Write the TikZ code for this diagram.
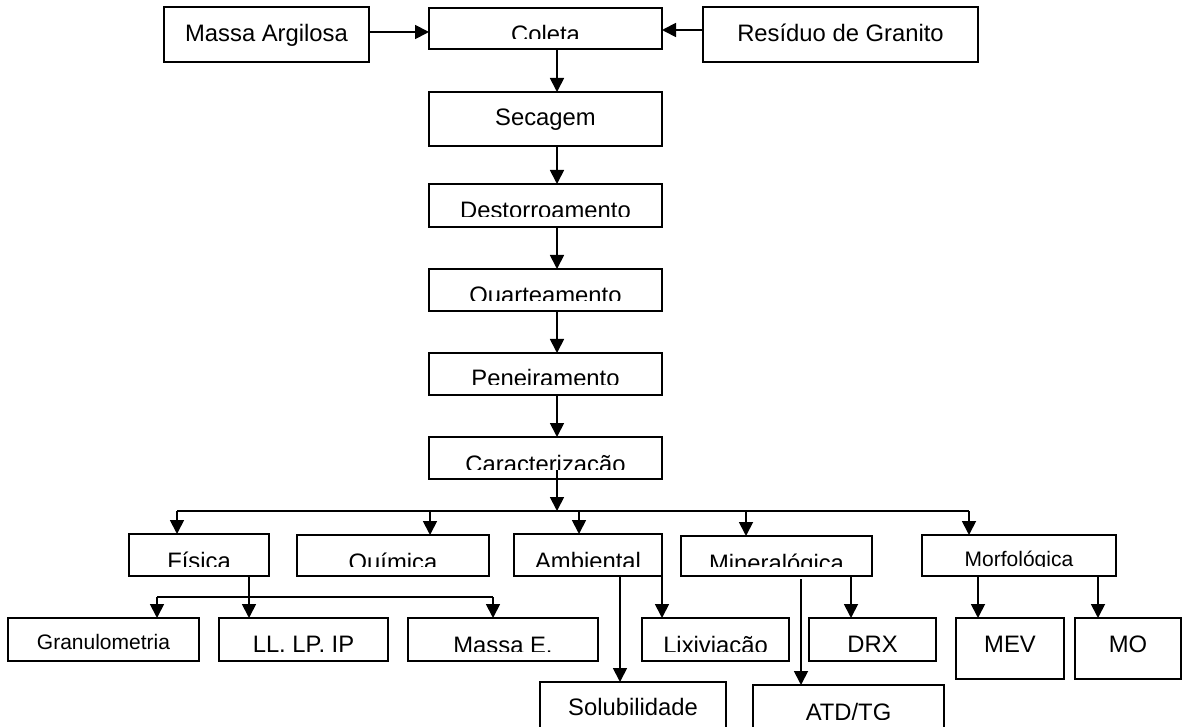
\documentclass[tikz,border=0pt]{standalone}
\usepackage{fontspec}
\setmainfont{Liberation Sans}
\usetikzlibrary{arrows.meta}
\tikzset{
  bx/.style={draw, line width=1.8pt, inner sep=0pt, outer sep=0pt, rectangle},
  ln/.style={line width=1.8pt},
  arr/.style={line width=1.8pt, -{Triangle[length=14pt,width=14pt]}},
  txt/.style={inner sep=0pt, font=\fontsize{23.8}{28}\selectfont},
  txts/.style={inner sep=0pt, font=\fontsize{21}{25}\selectfont},
}
% #1 name, #2 x1, #3 y1, #4 x2, #5 y2, #6 text, #7 text style, #8 baseline offset
\newcommand\wbox[8]{%
  \node[bx, minimum width={(#4)-(#2)}, minimum height={(#5)-(#3)}] (#1) at ({((#2)+(#4))/2},{((#3)+(#5))/2}) {};
  \begin{scope}
    \clip (#2,#3) rectangle (#4,{(#5)-10});
    \node[#7, anchor=base] at ({((#2)+(#4))/2},{(#3)+(#8)}) {#6};
  \end{scope}}
\begin{document}
\begin{tikzpicture}[x=1pt,y=-1pt]
\clip (0,0) rectangle (1184,727);
\fill[white] (0,0) rectangle (1184,727);
% top row
\wbox{ma}{164}{7}{369}{62}{Massa Argilosa}{txt}{35}
\wbox{co}{429}{8}{662}{49}{Coleta}{txt}{35}
\wbox{rg}{703}{7}{978}{62}{Resíduo de Granito}{txt}{35}
% main chain
\wbox{se}{429}{92}{662}{146}{Secagem}{txt}{34}
\wbox{de}{429}{184}{662}{227}{Destorroamento}{txt}{35}
\wbox{qa}{429}{269}{662}{311}{Quarteamento}{txt}{35}
\wbox{pe}{429}{353}{662}{395}{Peneiramento}{txt}{34}
\wbox{ca}{429}{437}{662}{479}{Caracterização}{txt}{35}
% second level
\wbox{fi}{129}{534}{269}{576}{Física}{txt}{35}
\wbox{qu}{297}{535}{489}{576}{Química}{txt}{35}
\wbox{am}{514}{534}{662}{576}{Ambiental}{txt}{35}
\wbox{mi}{681}{536}{872}{576}{Mineralógica}{txt}{35}
\wbox{mo}{922}{535}{1116}{576}{Morfológica}{txts}{31}
% third level
\wbox{gr}{8}{618}{199}{661}{Granulometria}{txts}{31}
\wbox{ll}{219}{618}{388}{661}{LL. LP. IP}{txt}{34}
\wbox{me}{408}{618}{598}{661}{Massa E.}{txt}{35}
\wbox{li}{642}{618}{789}{661}{Lixiviação}{txt}{35}
\wbox{dr}{809}{618}{936}{661}{DRX}{txt}{34}
\wbox{mev}{956}{618}{1064}{679}{MEV}{txt}{34}
\wbox{mob}{1075}{618}{1181}{679}{MO}{txt}{34}
\wbox{so}{540}{682}{726}{729}{Solubilidade}{txt}{33}
\wbox{at}{753}{685}{944}{729}{ATD/TG}{txt}{35}
% helper coordinates
\coordinate (ya) at (0,32);
\coordinate (yb) at (0,30);
\coordinate (cx) at (557,0);
\coordinate (cs) at (557,470);
\coordinate (bus) at (0,511);
\coordinate (bl) at (177,511);
\coordinate (bq) at (430,511);
\coordinate (ba) at (579,511);
\coordinate (bm) at (746,511);
\coordinate (br) at (969,511);
\coordinate (fx) at (249,0);
\coordinate (f1) at (157,597);
\coordinate (f3) at (493,597);
\coordinate (ax) at (620,0);
\coordinate (mx1) at (801,579);
\coordinate (mx2) at (851,0);
\coordinate (ox1) at (978,0);
\coordinate (ox2) at (1098,0);
% connectors top
\draw[arr] (ma.east |- ya) -- (co.west |- ya);
\draw[arr] (rg.west |- yb) -- (co.east |- yb);
\draw[arr] (co.south -| cx) -- (se.north -| cx);
\draw[arr] (se.south -| cx) -- (de.north -| cx);
\draw[arr] (de.south -| cx) -- (qa.north -| cx);
\draw[arr] (qa.south -| cx) -- (pe.north -| cx);
\draw[arr] (pe.south -| cx) -- (ca.north -| cx);
\draw[arr] (cs) -- (cx |- bus);
% bus
\draw[ln] (bl) -- (br);
\draw[arr] (bl) -- (fi.north -| bl);
\draw[arr] (bq) -- (qu.north -| bq);
\draw[arr] (ba) -- (am.north -| ba);
\draw[arr] (bm) -- (mi.north -| bm);
\draw[arr] (br) -- (mo.north -| br);
% Fisica children
\draw[arr] (fx |- fi.south) -- (fx |- ll.north);
\draw[ln] (f1) -- (f3);
\draw[arr] (f1) -- (gr.north -| f1);
\draw[arr] (f3) -- (me.north -| f3);
% Ambiental children
\draw[arr] (ax |- am.south) -- (ax |- so.north);
\draw[arr] (am.south east) -- (am.south east |- li.north);
% Mineralogica children
\draw[arr] (mx1) -- (mx1 |- at.north);
\draw[arr] (mx2 |- mi.south) -- (mx2 |- dr.north);
% Morfologica children
\draw[arr] (ox1 |- mo.south) -- (ox1 |- mev.north);
\draw[arr] (ox2 |- mo.south) -- (ox2 |- mob.north);
\end{tikzpicture}
\end{document}
